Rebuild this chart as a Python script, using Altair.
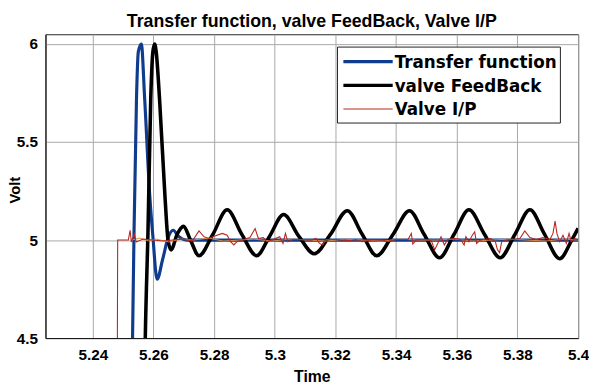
import altair as alt
import pandas as pd

# ---------------- data ----------------
x_ticks = [5.24, 5.26, 5.28, 5.30, 5.32, 5.34, 5.36, 5.38, 5.40]
y_ticks = [4.5, 5.0, 5.5, 6.0]

series_names = ["Transfer function", "valve FeedBack", "Valve I/P"]
series_colors = ["#0f3c8c", "#000000", "#b8281e"]
series_widths = [3.2, 3.6, 1.1]

# Transfer function (blue)
tf_t = [5.2527, 5.2531, 5.2536, 5.2544, 5.2550, 5.2560, 5.2571, 5.2588, 5.2598,
        5.2612, 5.2630, 5.2650, 5.2665, 5.2682, 5.2710, 5.2761, 5.3011, 5.3513, 5.4000]
tf_v = [4.0, 4.5, 5.05, 5.72, 5.96, 6.0, 5.72, 5.22, 5.02,
        4.80, 4.90, 5.02, 5.05, 5.02, 5.0, 5.0, 5.0, 5.0, 5.0]

# valve FeedBack (black)
fb_t = [5.2568, 5.2573, 5.2582, 5.2591, 5.2598, 5.2604, 5.2609, 5.2620, 5.2638, 5.2648,
        5.2658, 5.2678, 5.2699, 5.2722, 5.2750, 5.2796, 5.2843, 5.2891, 5.2940, 5.2983,
        5.3029, 5.3079, 5.3130, 5.3184, 5.3239, 5.3288, 5.3336, 5.3390, 5.3444, 5.3492,
        5.3543, 5.3591, 5.3640, 5.3691, 5.3743, 5.3792, 5.3841, 5.3889, 5.3939, 5.3979,
        5.4000]
fb_v = [4.0, 4.5, 5.05, 5.72, 5.96, 6.0, 5.96, 5.72, 5.22, 5.0,
        4.95, 5.03, 5.07, 5.0, 4.92, 5.03, 5.155, 5.03, 4.92, 5.02,
        5.13, 5.02, 4.93, 5.03, 5.15, 5.03, 4.92, 5.03, 5.15, 5.03,
        4.91, 5.03, 5.155, 5.03, 4.91, 5.03, 5.155, 5.03, 4.905, 5.0,
        5.06]

# Valve I/P (thin red)
ip_t = [5.2480, 5.2482, 5.2517, 5.2523, 5.2527, 5.2537, 5.2543, 5.2566, 5.2598, 5.2631,
        5.2663, 5.2696, 5.2728, 5.2750, 5.2767, 5.2783, 5.2800, 5.2827, 5.2843, 5.2854,
        5.2865, 5.2875, 5.2897, 5.2918, 5.2935, 5.2946, 5.2962, 5.2973, 5.2994, 5.3016,
        5.3027, 5.3035, 5.3043, 5.3059, 5.3092, 5.3120, 5.3136, 5.3147, 5.3158, 5.3169,
        5.3201, 5.3244, 5.3266, 5.3288, 5.3320, 5.3353, 5.3374, 5.3396, 5.3439, 5.3450,
        5.3455, 5.3466, 5.3499, 5.3516, 5.3527, 5.3537, 5.3548, 5.3559, 5.3570, 5.3592,
        5.3613, 5.3624, 5.3630, 5.3640, 5.3651, 5.3659, 5.3665, 5.3678, 5.3711, 5.3727,
        5.3734, 5.3741, 5.3748, 5.3765, 5.3786, 5.3808, 5.3824, 5.3841, 5.3862, 5.3884,
        5.3907, 5.3917, 5.3924, 5.3930, 5.3939, 5.3950, 5.3961, 5.3970, 5.3977, 5.3988,
        5.3998, 5.4000]
ip_v = [4.0, 5.0, 5.0, 5.05, 4.99, 5.03, 4.99, 5.005, 5.0, 4.995,
        5.0, 5.005, 4.995, 5.047, 5.017, 5.008, 5.020, 5.034, 5.025, 4.992,
        4.975, 4.992, 5.003, 5.013, 5.059, 5.008, 5.013, 4.992, 5.003, 5.017,
        4.983, 5.034, 4.992, 5.003, 5.003, 5.0, 5.008, 4.983, 4.975, 5.003,
        5.003, 4.997, 5.003, 4.992, 5.0, 5.0, 4.992, 5.003, 5.003, 5.034,
        4.980, 5.0, 5.003, 4.997, 4.950, 4.983, 5.017, 4.975, 5.003, 5.008,
        5.003, 4.975, 5.017, 4.992, 5.025, 5.042, 4.983, 5.0, 5.008, 4.992,
        4.950, 4.936, 4.992, 5.0, 5.003, 5.008, 5.047, 5.013, 5.003, 5.013,
        5.003, 5.034, 5.097, 5.034, 4.992, 5.025, 4.983, 5.034, 4.992, 5.008,
        5.0, 5.0]

# faint orange trace lying on the 5.0 level (not in the legend)
or_t = [5.2527, 5.2555, 5.2585, 5.2610, 5.2650, 5.2690, 5.2730, 5.2781, 5.2831, 5.2881,
        5.2931, 5.2991, 5.3051, 5.3111, 5.3172, 5.3232, 5.3292, 5.3352, 5.3412, 5.3472,
        5.3533, 5.3593, 5.3653, 5.3713, 5.3773, 5.3833, 5.3893, 5.3954, 5.4000]
or_v = [5.0, 5.01, 4.995, 5.005, 4.99, 5.005, 5.0, 5.01, 4.995, 5.0,
        5.005, 4.995, 5.005, 5.0, 4.995, 5.005, 5.0, 4.995, 5.005, 5.0,
        5.0, 5.005, 4.995, 5.0, 5.005, 5.0, 4.995, 5.005, 5.0]

# ---------------- chart ----------------
LAB_FONT = "Liberation Sans"

x_scale = alt.Scale(domain=[5.2244, 5.4], nice=False, zero=False)
y_scale = alt.Scale(domain=[4.5, 6.05], nice=False, zero=False)

x_axis = alt.Axis(values=x_ticks, format=".2~f", title="Time", grid=True, ticks=False,
                  labelPadding=10, labelFlush=False, labelOverlap=False,
                  titleY=44.3, titleBaseline="alphabetic", titleFontSize=16)
y_axis = alt.Axis(values=y_ticks, format=".1~f", title="Volt", grid=True, ticks=False,
                  labelPadding=8, labelFlush=False, labelOverlap=False,
                  titleX=-26.5, titleY=157.5, titleAngle=270, titleAlign="center",
                  titleBaseline="alphabetic", titleFontSize=15)


def line_layer(ts, vs, color, width, interp):
    df = pd.DataFrame({"t": ts, "v": vs})
    return alt.Chart(df).mark_line(color=color, strokeWidth=width, clip=True,
                                   interpolate=interp).encode(
        x=alt.X("t:Q", scale=x_scale, axis=x_axis),
        y=alt.Y("v:Q", scale=y_scale, axis=y_axis),
        order=alt.Order("t:Q"),
    )


tf_layer = line_layer(tf_t, tf_v, series_colors[0], series_widths[0], "monotone")
fb_layer = line_layer(fb_t, fb_v, series_colors[1], series_widths[1], "monotone")
or_layer = line_layer(or_t, or_v, "#e58a3f", 1.0, "linear")
ip_layer = line_layer(ip_t, ip_v, series_colors[2], series_widths[2], "linear")

# legend box (drawn manually, MATLAB style)
legend_box = alt.Chart(pd.DataFrame({"k": [0]})).mark_rect(
    fill="white", stroke="#222222", strokeWidth=1
).encode(x=alt.value(296), x2=alt.value(522), y=alt.value(13), y2=alt.value(90))

legend_layers = [legend_box]
row_y = [27.8, 51.8, 75.8]
for name, col, w, ry in zip(series_names, series_colors, series_widths, row_y):
    ldf = pd.DataFrame({"label": [name]})
    legend_layers.append(
        alt.Chart(ldf).mark_rule(color=col, strokeWidth=min(w, 3.2)).encode(
            x=alt.value(302), x2=alt.value(352), y=alt.value(ry))
    )
    legend_layers.append(
        alt.Chart(ldf).mark_text(align="left", baseline="alphabetic", font="DejaVu Sans",
                                 fontWeight="bold", fontSize=17, color="black").encode(
            x=alt.value(354), y=alt.value(ry + 6.3), text="label:N")
    )

chart = alt.layer(tf_layer, fb_layer, or_layer, ip_layer, *legend_layers).properties(
    width=540,
    height=308,
    autosize=alt.AutoSizeParams(type="none"),
    padding={"left": 38, "top": 24, "right": 11, "bottom": 50},
    background="white",
    title=alt.TitleParams(text="Transfer function, valve FeedBack, Valve I/P",
                          font=LAB_FONT, fontSize=18, fontWeight="bold", color="black",
                          anchor="middle", baseline="bottom", offset=0, dy=15),
).configure_view(
    stroke="#262626", strokeWidth=1
).configure_axis(
    labelFont=LAB_FONT, labelFontWeight="bold", labelFontSize=15.5, labelColor="black",
    titleFont=LAB_FONT, titleFontWeight="bold", titleColor="black",
    domainColor="#111111", domainWidth=1,
    gridColor="#a8a8a8", gridWidth=1, gridOpacity=1,
)

chart.save("out.html", embed_options={"renderer": "svg", "actions": False})
